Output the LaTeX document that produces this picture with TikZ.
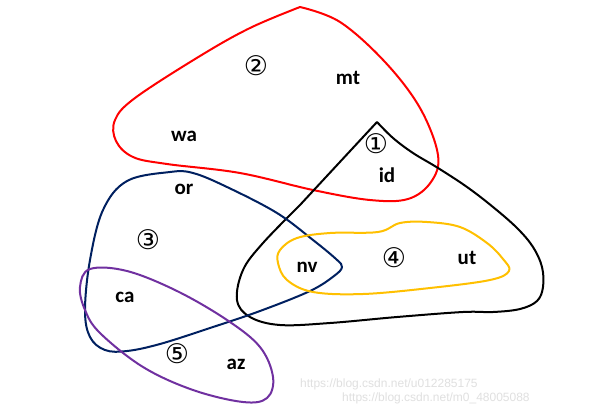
\documentclass[tikz,border=0pt]{standalone}
\usepackage{fontspec}
\newfontfamily\lblfont{Carlito}[BoldFont={* Bold}]
\newfontfamily\numfont{DejaVu Sans}
\newfontfamily\wmfont{Liberation Sans}
\definecolor{setred}{RGB}{255,0,0}
\definecolor{setnavy}{RGB}{0,32,96}
\definecolor{setyellow}{RGB}{255,192,0}
\definecolor{setpurple}{RGB}{112,48,160}
\tikzset{
  lbl/.style={font=\lblfont\bfseries\fontsize{21}{23}\selectfont, inner sep=0pt},
  num/.style={font=\numfont\fontsize{27}{29}\selectfont, inner sep=0pt},
  wm/.style={font=\wmfont\fontsize{12}{14}\selectfont, text=black!12, inner sep=0pt, anchor=west},
  setline/.style={line width=2pt, line join=round, line cap=round}
}
\begin{document}
\begin{tikzpicture}[x=1pt,y=-1pt]
\useasboundingbox[fill=white] (0,0) rectangle (599,416);
% watermark
\node[wm] (wm1) at (300,384) {https://blog.csdn.net/u012285175};
\node[wm] (wm2) at (342,398) {https://blog.csdn.net/m0\_48005088};
% set 2 (red)
\draw[setline, setred] plot[smooth, tension=0.6] coordinates {(300,7) (340,22) (385,62) (420,108) (438,155) (431,182) (408,199) (370,200) (313,190) (240,173) (167,164) (133,157) (116,141) (115,120) (135,98) (200,56) (250,28) (300,7)};
% set 1 (black)
\draw[setline, black] (377,122) -- (300,205)
  plot[smooth, tension=0.6] coordinates {(300,205) (263,243) (243,270) (237,300) (250,317) (280,325) (330,323) (397,317) (463,312) (493,312) (520,309) (537,301) (543,287) (542,267) (533,247) (517,228) (493,207) (467,187) (438,168) (413,153) (393,138) (377,122)};
% set 3 (navy)
\draw[setline, setnavy] plot[smooth cycle, tension=0.6] coordinates {(170,172) (127,181) (103,210) (90,260) (85,310) (90,337) (105,350) (127,351) (160,344) (210,328) (260,311) (310,291) (334,276) (342,267) (336,259) (313,240) (277,213) (227,187) (193,173)};
% set 4 (yellow)
\draw[setline, setyellow] plot[smooth cycle, tension=0.6] coordinates {(280,250) (278,263) (287,280) (313,292) (363,294) (430,288) (490,280) (509,271) (503,259) (487,243) (460,227) (427,222) (400,223) (378,232) (330,233) (297,238)};
% set 5 (purple)
\draw[setline, setpurple] plot[smooth cycle, tension=0.6] coordinates {(90,269) (80,287) (85,310) (100,333) (143,367) (193,390) (243,402) (267,398) (273,377) (260,347) (227,320) (177,291) (127,271)};
% labels
\node[num] (n2) at (256,66) {②};
\node[lbl] (mt) at (348,78) {mt};
\node[lbl] (wa) at (184,136) {wa};
\node[num] (n1) at (376,144) {①};
\node[lbl] (id) at (387,175) {id};
\node[lbl] (or) at (184,189) {or};
\node[num] (n3) at (148,240) {③};
\node[num] (n4) at (394,258) {④};
\node[lbl] (ut) at (467,258) {ut};
\node[lbl] (nv) at (307,267) {nv};
\node[lbl] (ca) at (125,297) {ca};
\node[num] (n5) at (177,354) {⑤};
\node[lbl] (az) at (236,364) {az};
\end{tikzpicture}
\end{document}
